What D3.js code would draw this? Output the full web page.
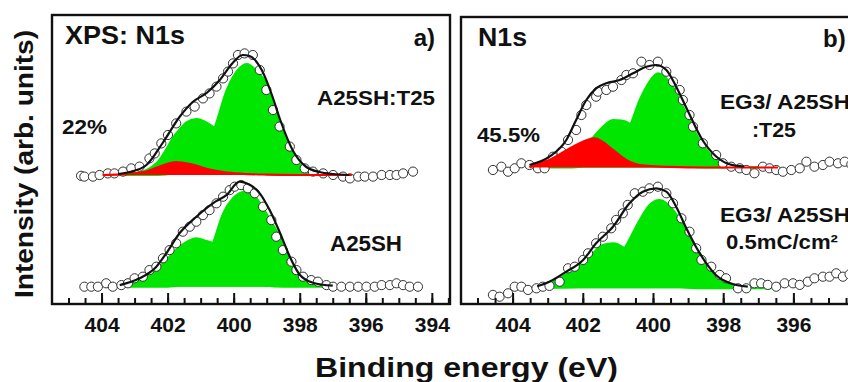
<!DOCTYPE html>
<html>
<head>
<meta charset="utf-8">
<script src="https://cdn.jsdelivr.net/npm/d3@7"></script>
<style>
  body { margin: 0; background: #fff; }
  text { font-family: "Liberation Sans", Arial, sans-serif; font-weight: bold; fill: #111; }
</style>
</head>
<body>
<div id="chart"></div>
<script>
// ---- data: binding energy (eV), intensity (arb. units, relative to each baseline)
var majorTicks = [404, 402, 400, 398, 396, 394];

// panel a) upper spectrum A25SH:T25
var ltOffset = 64.5;
var ltPoints = [[404.62,-0.4],[404.52,-0.8],[404.26,-0.8],[404.06,0],[403.81,0.8],[403.61,0.8],[403.35,1.7],[403.1,3.3],[402.85,4.2],[402.55,8.3],[402.39,10.8],[402.19,15.8],[401.99,20],[401.74,25.8],[401.43,31.7],[401.18,34.2],[400.93,38.3],[400.73,40.8],[400.52,44.2],[400.32,48.3],[400.17,51.7],[400.02,55.8],[399.87,60],[399.67,60.8],[399.42,60],[399.21,52.5],[399.01,42.5],[398.81,32.5],[398.61,24.2],[398.3,14.2],[398.1,7.5],[397.85,3.3],[397.6,1.7],[397.29,0.8],[396.99,0],[396.69,-0.8],[396.48,-1.7],[396.23,-0.8],[396.03,-0.8],[395.78,-0.8],[395.52,0],[395.27,0],[395.07,0],[394.87,0.8],[394.57,1.7]];
var ltFit = [[403.5,0.5],[403.15,1.5],[402.64,5],[402.15,16],[401.64,29],[401.24,36.5],[400.82,41],[400.42,47.5],[400.03,56],[399.73,60],[399.52,59.5],[399.15,52.5],[398.82,39],[398.6,28],[398.2,12],[397.8,4],[397.4,1.5],[397.0,0.5],[396.5,0]];
var ltGreen1 = [[403.97,0],[403.5,0.2],[402.94,1],[402.33,6],[401.73,21],[401.42,26.5],[401.12,28],[400.85,26.5],[400.58,23.5],[400.2,14],[399.8,6],[399.4,2],[399.0,0.5],[398.5,0],[396.42,0]];
var ltGreen2 = [[403.97,0],[402.3,0],[401.8,1],[401.3,4],[400.9,12],[400.58,23.5],[400.21,42.5],[399.82,53.5],[399.6,55.5],[399.3,52],[399.01,45.8],[398.61,26],[398.21,11],[397.79,2.5],[397.39,1],[397.0,0.3],[396.42,0]];
var ltRed = [[403.97,0],[403.4,0.3],[403.0,0.8],[402.6,2],[402.2,4.5],[401.75,6.5],[401.3,5.5],[400.8,3],[400.3,1.5],[399.8,0.7],[399.0,0.2],[398.0,0],[396.42,0]];

// panel a) lower spectrum A25SH
var lbOffset = 8.65;
var lbPoints = [[404.52,0],[404.31,0],[404.11,0],[403.86,1.7],[403.66,0],[403.4,0.8],[403.2,1.7],[403.0,4.2],[402.75,5],[402.55,8.3],[402.34,10],[402.14,14.2],[401.94,18.3],[401.74,21.7],[401.54,27.5],[401.33,30],[401.13,32.5],[400.93,35.8],[400.73,38.3],[400.52,41.7],[400.32,45],[400.12,48.3],[399.97,50],[399.77,50.8],[399.57,49.2],[399.36,46.7],[399.11,40],[398.86,33.3],[398.71,25],[398.51,18.3],[398.25,12.5],[398.1,8.3],[397.9,5],[397.65,3.3],[397.45,2.5],[397.19,0.8],[396.99,0],[396.74,0],[396.48,0],[396.23,0],[395.98,0],[395.73,0],[395.52,0.8],[395.27,0.8],[395.07,1.7],[394.87,0.8],[394.67,0],[394.42,0]];
var lbFit = [[403.45,0.8],[402.85,4.2],[402.34,10],[402.04,16.7],[401.64,26.7],[401.13,35],[400.63,41.7],[400.22,45.8],[399.82,52.5],[399.61,51.7],[399.21,46.7],[398.91,38.3],[398.6,27],[398.3,15],[398.0,6],[397.6,2],[397.0,0.5]];
var lbGreen1 = [[403.9,0],[403.66,0.3],[403.15,1.7],[402.65,5],[402.14,11.7],[401.64,20],[401.13,24.2],[400.85,23],[400.63,21.7],[400.3,15],[399.9,7],[399.5,2.5],[399.0,0.5],[398.5,0],[396.4,0]];
var lbGreen2 = [[403.9,0],[402.0,0],[401.5,1.5],[401.0,8],[400.63,21.7],[400.32,36.7],[400.02,44.2],[399.67,47.5],[399.35,45],[399.01,36.7],[398.61,25],[398.3,13.3],[398.0,5],[397.6,1.7],[397.0,0.5],[396.4,0]];

// panel b) upper spectrum EG3/A25SH:T25
var rtOffset = 68.25;
var rtPoints = [[404.56,-1.25],[404.32,0.4],[404.13,-2.1],[403.94,-0.4],[403.75,2.1],[403.52,1.25],[403.28,-0.4],[403.09,-0.4],[402.85,5.4],[402.61,7.9],[402.42,13.75],[402.19,18.75],[402.04,26.25],[401.9,31.25],[401.62,35.4],[401.57,37.9],[401.33,38.75],[401.14,40.4],[400.9,43.75],[400.76,46.25],[400.57,47.1],[400.33,52.9],[400.1,51.25],[399.86,52.9],[399.62,47.9],[399.43,42.9],[399.24,38.75],[399.15,33.75],[398.96,26.25],[398.86,20.4],[398.58,12.1],[398.2,6.25],[398.01,2.1],[397.77,0.4],[397.53,-0.4],[397.34,-1.25],[397.11,-2.9],[396.87,0.4],[396.68,-0.4],[396.49,-1.25],[396.3,-2.1],[396.06,-1.25],[395.82,-0.4],[395.63,2.9],[395.4,0.4],[395.16,1.25],[394.97,2.9],[394.73,2.1],[394.54,2.9],[394.35,1.5]];
var rtFit = [[403.52,1.25],[402.95,5.4],[402.47,13.75],[402.19,23.75],[401.9,33.75],[401.62,39.6],[401.33,42.1],[400.95,43.75],[400.57,47.1],[400.19,50.4],[399.91,51.25],[399.62,48.75],[399.34,40.4],[399.0,28],[398.6,14],[398.2,5.5],[397.8,1.5],[397.4,0.5]];
var rtGreen1 = [[403.52,0],[402.8,1],[402.3,5],[401.76,14],[401.52,18.75],[401.14,23.75],[400.9,23.5],[400.67,22],[400.3,14],[399.9,6],[399.5,2],[399.0,0.5],[398.5,0],[396.44,0]];
var rtGreen2 = [[403.52,0],[402.3,0],[401.8,1.5],[401.3,5],[400.95,12],[400.67,20.4],[400.38,33.75],[400.1,43],[399.86,47.1],[399.43,40.4],[399.05,27],[398.67,13.75],[398.29,5.4],[397.91,1.25],[397.5,0.3],[396.44,0]];
var rtRed = [[403.52,0],[403.42,1],[402.95,3.75],[402.28,10.4],[401.66,14.6],[401.14,8.75],[400.76,3.75],[400.38,1.25],[399.5,0.3],[398.5,0],[396.44,0]];

// panel b) lower spectrum EG3/A25SH 0.5 mC/cm2
var rbOffset = 7.85;
var rbPoints = [[404.56,-3.3],[404.37,-4.2],[404.13,-2.5],[403.94,0.8],[403.75,0.8],[403.56,-0.8],[403.32,0],[403.14,0.8],[402.95,1.2],[402.66,3.3],[402.42,10],[402.23,10.8],[401.99,14.2],[401.85,17.5],[401.62,22.5],[401.43,25.8],[401.19,30],[401.05,34.2],[400.86,37.5],[400.72,41.7],[400.52,47.5],[400.29,48.3],[400.1,50],[399.86,50.8],[399.62,47.5],[399.43,42.5],[399.19,35],[398.96,28.3],[398.77,20],[398.62,14.2],[398.34,10.8],[398.1,6.7],[397.92,5],[397.58,0],[397.34,0],[397.11,2.5],[396.92,2.5],[396.73,1.7],[396.49,0.8],[396.25,2.5],[396.01,2.5],[395.82,1.7],[395.59,3.3],[395.4,5],[395.16,5.8],[394.97,5.8],[394.78,7.5],[394.59,5.8],[394.4,7]];
var rbFit = [[403.3,1],[402.95,3.3],[402.47,8.3],[401.99,14.2],[401.62,22.5],[401.14,30.8],[400.67,42.5],[400.29,48.3],[399.91,50],[399.62,48.3],[399.34,40.8],[399.05,30],[398.77,20.5],[398.48,12.5],[398.2,6.5],[397.8,2.5],[397.3,0.8]];
var rbGreen1 = [[403.52,0],[403.23,1.2],[402.76,4.2],[402.28,9.2],[401.81,15.8],[401.43,21.7],[401.14,22.5],[400.81,20],[400.4,12],[400.0,5],[399.5,1.5],[399.0,0.3],[398.5,0],[396.63,0]];
var rbGreen2 = [[403.52,0],[402.3,0.5],[401.8,2.5],[401.3,9],[400.81,20],[400.38,34.2],[400.1,41.7],[399.81,44.2],[399.43,39.2],[399.05,29.2],[398.77,20.8],[398.48,12.5],[398.2,6.7],[397.82,2.5],[397.34,0.8],[396.63,0]];

var W = 848, H = 382;
var GREEN = "#00e600", RED = "#ff0000";

var svg = d3.select("#chart").append("svg")
  .attr("width", W).attr("height", H);

var y = d3.scaleLinear().domain([0, 145]).range([304, 14]);

var panels = [
  { x: d3.scaleLinear().domain([405.5, 393.45]).range([52, 450]), top: 15, right: 450,
    spectra: [
      { off: ltOffset, pts: ltPoints, fit: ltFit, greens: [ltGreen1, ltGreen2], red: ltRed },
      { off: lbOffset, pts: lbPoints, fit: lbFit, greens: [lbGreen1, lbGreen2], red: null }
    ] },
  { x: d3.scaleLinear().domain([405.47, 394]).range([461, 863.6]), top: 17, right: 880,
    spectra: [
      { off: rtOffset, pts: rtPoints, fit: rtFit, greens: [rtGreen1, rtGreen2], red: rtRed },
      { off: rbOffset, pts: rbPoints, fit: rbFit, greens: [rbGreen1, rbGreen2], red: null }
    ] }
];

panels.forEach(function(p) {
  var g = svg.append("g");
  var x = p.x;
  var x0 = x.range()[0];

  p.spectra.forEach(function(s) {
    var area = d3.area().curve(d3.curveMonotoneX)
      .x(function(d) { return x(d[0]); })
      .y0(y(s.off))
      .y1(function(d) { return y(s.off + d[1]); });
    var line = d3.line().curve(d3.curveMonotoneX)
      .x(function(d) { return x(d[0]); })
      .y(function(d) { return y(s.off + d[1]); });

    var comps = s.greens.map(function(c) { return c.slice().reverse(); });
    comps.forEach(function(c) {
      g.append("path").attr("d", area(c)).attr("fill", GREEN);
      g.append("path").attr("d", line(c)).attr("fill", "none")
        .attr("stroke", GREEN).attr("stroke-width", 2);
    });

    g.selectAll(null).data(s.pts).enter().append("circle")
      .attr("cx", function(d) { return x(d[0]); })
      .attr("cy", function(d) { return y(s.off + d[1]); })
      .attr("r", 4.6)
      .attr("fill", "#fff")
      .attr("stroke", "#333")
      .attr("stroke-width", 1);

    if (s.red) {
      var r = s.red.slice().reverse();
      g.append("path").attr("d", area(r)).attr("fill", RED);
      g.append("path").attr("d", line(r)).attr("fill", "none")
        .attr("stroke", RED).attr("stroke-width", 2.2);
    }

    g.append("path").attr("d", line(s.fit.slice().reverse()))
      .attr("fill", "none").attr("stroke", "#111").attr("stroke-width", 2.2);
  });

  // frame
  g.append("rect")
    .attr("x", x0).attr("y", p.top)
    .attr("width", p.right - x0).attr("height", 304 - p.top)
    .attr("fill", "none").attr("stroke", "#111").attr("stroke-width", 2.4);

  // minor ticks every 0.5 eV, pointing inward
  var minor = d3.range(405, 393.4, -0.5);
  g.append("g").attr("transform", "translate(0,304)")
    .call(d3.axisBottom(x).tickValues(minor).tickSize(-6).tickFormat(""))
    .call(function(a) {
      a.select(".domain").remove();
      a.selectAll("line").attr("stroke", "#111").attr("stroke-width", 2);
    });

  // major ticks with labels (only those whose label fits inside the page)
  var shown = majorTicks.filter(function(d) { return x(d) + 20 < W; });
  g.append("g").attr("transform", "translate(0,304)")
    .call(d3.axisBottom(x).tickValues(shown).tickSize(-11).tickPadding(13).tickFormat(d3.format("d")))
    .call(function(a) {
      a.select(".domain").remove();
      a.selectAll("line").attr("stroke", "#111").attr("stroke-width", 2);
      a.selectAll("text")
        .attr("font-family", "Liberation Sans, Arial, sans-serif")
        .attr("font-weight", "bold")
        .attr("font-size", 21)
        .attr("fill", "#111");
    });
  // the last major tick mark still shows even where its label is off the page
  var hidden = majorTicks.filter(function(d) { return x(d) + 20 >= W; });
  g.append("g").attr("transform", "translate(0,304)")
    .call(d3.axisBottom(x).tickValues(hidden).tickSize(-11).tickFormat(""))
    .call(function(a) {
      a.select(".domain").remove();
      a.selectAll("line").attr("stroke", "#111").attr("stroke-width", 2);
    });
});

// annotations
function label(txt, x, yy, size, anchor, len) {
  var t = svg.append("text").attr("x", x).attr("y", yy)
    .attr("font-size", size).attr("text-anchor", anchor || "start").text(txt);
  if (len) t.attr("textLength", len).attr("lengthAdjust", "spacingAndGlyphs");
  return t;
}
label("XPS: N1s", 65, 44, 25, "start", 120);
label("a)", 435, 46, 24, "end");
label("22%", 62, 134, 21, "start", 45);
label("A25SH:T25", 317, 105, 21, "start", 118);
label("A25SH", 330, 251, 22, "start", 72);

label("N1s", 478, 46, 25, "start", 49);
label("b)", 823, 47, 24, "start");
label("45.5%", 477, 142, 21, "start", 63);
label("EG3/ A25SH", 720, 109, 21, "start", 130);
label(":T25", 752, 137, 21, "start", 44);
label("EG3/ A25SH", 720, 222, 21, "start", 130);
label("0.5mC/cm\u00b2", 726, 249, 21, "start", 112);

// axis titles
label("Binding energy (eV)", 315, 377, 27, "start", 303);
svg.append("text")
  .attr("transform", "translate(33,164) rotate(-90)")
  .attr("text-anchor", "middle")
  .attr("font-size", 26)
  .attr("textLength", 268).attr("lengthAdjust", "spacingAndGlyphs")
  .text("Intensity (arb. units)");
</script>
</body>
</html>
